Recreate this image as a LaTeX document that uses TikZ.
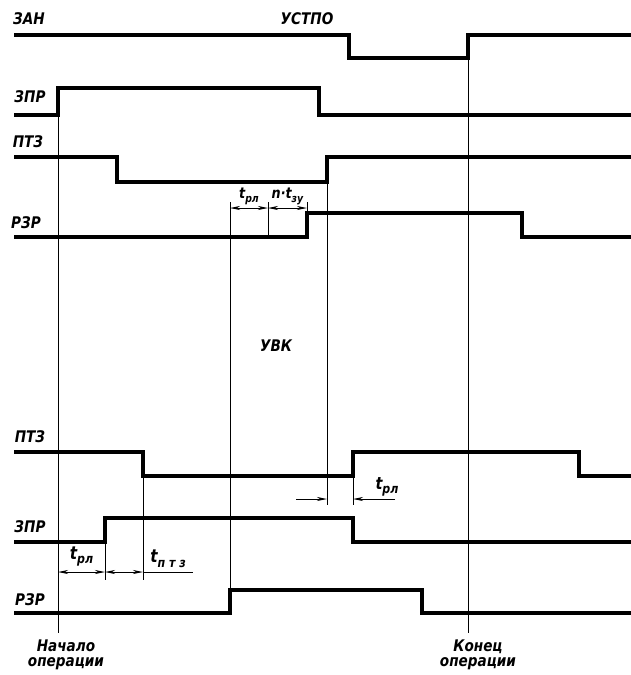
\documentclass[tikz,border=0pt]{standalone}
\usepackage{fontspec}
\setmainfont{DejaVu Sans}[FakeStretch=0.85]
\usetikzlibrary{arrows.meta}

\newcommand{\lowtext}[2][10]{\raisebox{-0.45ex}{\fontsize{#1}{#1}\selectfont #2}}

\tikzset{
	signal/.style={line width=3.2pt},
	guide/.style={line width=1pt},
	lbl/.style={font=\bfseries\itshape\fontsize{16}{15}\selectfont, inner sep=0pt},
	dimlbl/.style={font=\bfseries\itshape\fontsize{15}{14}\selectfont, inner sep=1pt},
	dim/.style={line width=1pt, {Stealth[length=10pt,width=4pt,inset=3pt]}-{Stealth[length=10pt,width=4pt,inset=3pt]}},
	pointer/.style={line width=1pt, -{Stealth[length=10pt,width=4pt,inset=3pt]}},
}

\begin{document}
\begin{tikzpicture}[x=1pt, y=-1pt]
	\useasboundingbox (0,0) rectangle (631,675);

	% signal names
	\node (zan) [lbl] at (29,19) {ЗАН};
	\node (ustpo) [lbl] at (307,19) {УСТПО};
	\node (zpra) [lbl] at (30,97) {ЗПР};
	\node (ptza) [lbl] at (28,142) {ПТЗ};
	\node (rzra) [lbl] at (26,223) {РЗР};
	\node (uvk) [lbl] at (276,346) {УВК};
	\node (ptzb) [lbl] at (30,437) {ПТЗ};
	\node (zprb) [lbl] at (30,527) {ЗПР};
	\node (rzrb) [lbl] at (30,600) {РЗР};
	\node (start) [lbl, align=center] at (66,655) {Начало\\операции};
	\node (finish) [lbl, align=center] at (478,655) {Конец\\операции};

	% waveforms
	\draw[signal] (14,35) -| (349,58) -| (468,35) -- (631,35);
	\draw[signal] (14,115) -| (58,88) -| (319,115) -- (631,115);
	\draw[signal] (14,157) -| (117,182) -| (327,157) -- (631,157);
	\draw[signal] (14,237) -| (307,213) -| (522,237) -- (631,237);
	\draw[signal] (14,452) -| (143,476) -| (353,452) -| (579,476) -- (631,476);
	\draw[signal] (14,542) -| (105,518) -| (353,542) -- (631,542);
	\draw[signal] (14,613) -| (230,590) -| (422,613) -- (631,613);

	% time marks
	\draw[guide] (58,88) -- (58,633);
	\draw[guide] (468,35) -- (468,633);
	\draw[guide] (230,202) -- (230,590);
	\draw[guide] (268,202) -- (268,237);
	\draw[guide] (307,202) -- (307,213);
	\draw[guide] (327,157) -- (327,505);
	\draw[guide] (353,476) -- (353,505);
	\draw[guide] (105,542) -- (105,580);
	\draw[guide] (143,476) -- (143,580);

	\coordinate (ta) at (230,208);
	\coordinate (tb) at (268,208);
	\coordinate (tc) at (307,208);
	\coordinate (ma) at (296,499);
	\coordinate (mb) at (327,499);
	\coordinate (mc) at (353,499);
	\coordinate (md) at (395,499);
	\coordinate (ba) at (58,572);
	\coordinate (bb) at (105,572);
	\coordinate (bc) at (143,572);
	\coordinate (bd) at (193,572);

	\path[dim]
	(ta) edge node[dimlbl, above=2pt] {t\lowtext[11]{рл}} (tb)
	(tb) edge node[dimlbl, above=2pt] {n·t\lowtext[11]{зу}} (tc)
	(ba) edge node[dimlbl, font=\bfseries\itshape\fontsize{18}{18}\selectfont, above=4pt] {t\lowtext[13]{рл}} (bb)
	(bb) edge (bc);
	\path[pointer]
	(ma) edge (mb)
	(md) edge (mc);
	\draw[guide] (bc) -- node[dimlbl, font=\bfseries\itshape\fontsize{18}{18}\selectfont, above=3pt] {t\lowtext[13]{п т з}} (bd);
	\node (trlm) [dimlbl, font=\bfseries\itshape\fontsize{17}{17}\selectfont] at (387,487) {t\lowtext[13]{рл}};

\end{tikzpicture}
\end{document}
